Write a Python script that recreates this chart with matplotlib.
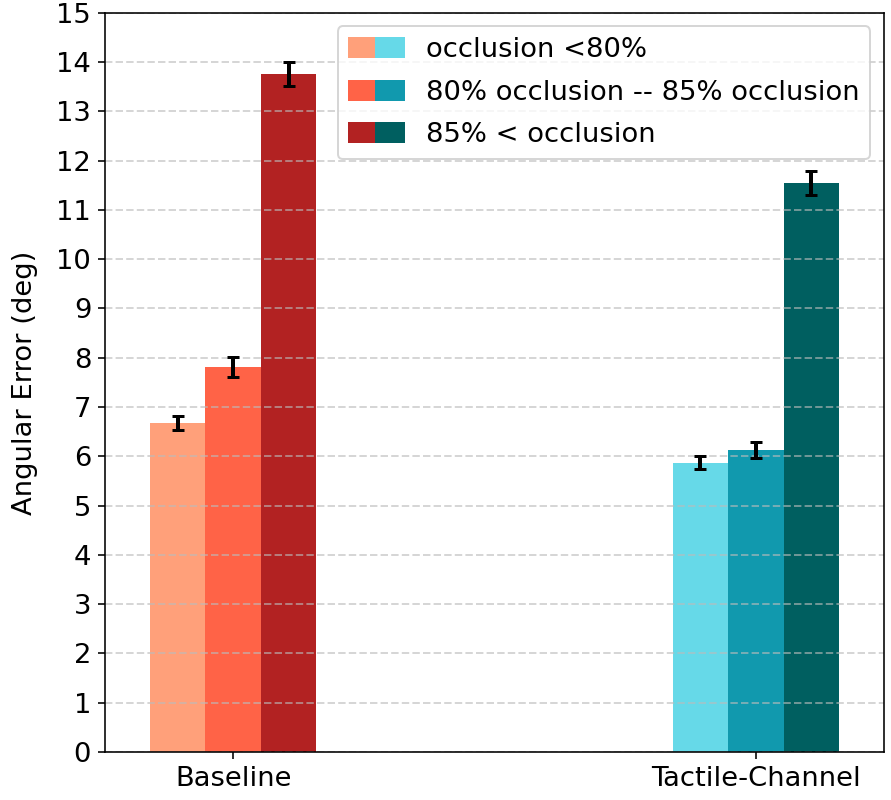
import numpy as np
import matplotlib.pyplot as plt
from matplotlib.patches import Rectangle
from matplotlib.legend_handler import HandlerTuple

# data
groups = ['Baseline', 'Tactile-Channel']
levels = ['occlusion <80%', '80% occlusion -- 85% occlusion', '85% < occlusion']
baseline_err = [6.68, 7.81, 13.76]
baseline_sd = [0.14, 0.20, 0.25]
tactile_err = [5.87, 6.13, 11.55]
tactile_sd = [0.13, 0.16, 0.24]

red_colors = ['#FFA07A', '#FF6347', '#B22222']
teal_colors = ['#66D9E8', '#1199AE', '#005F60']

plt.rcParams['font.size'] = 13.7
fig, ax = plt.subplots(figsize=(891 / 144, 800 / 144), dpi=144)
fig.subplots_adjust(left=0.118, right=0.992, bottom=0.06, top=0.984)

x = np.arange(len(groups))
width = 0.106
handles = []
for i in range(3):
    off = (i - 1) * width
    ax.bar(x[0] + off, baseline_err[i], width, color=red_colors[i], zorder=1)
    ax.bar(x[1] + off, tactile_err[i], width, color=teal_colors[i], zorder=1)
    ax.errorbar([x[0] + off, x[1] + off], [baseline_err[i], tactile_err[i]],
                yerr=[baseline_sd[i], tactile_sd[i]], fmt='none', ecolor='black',
                elinewidth=2, capsize=3, capthick=1.5, zorder=4)
    handles.append((Rectangle((0, 0), 1, 1, color=red_colors[i]),
                    Rectangle((0, 0), 1, 1, color=teal_colors[i])))

ax.set_xticks(x)
ax.set_xticklabels(groups)
ax.set_xlim(-0.245, 1.245)
ax.set_ylim(0, 15)
ax.set_yticks(range(0, 16))
ax.set_ylabel('Angular Error (deg)', labelpad=9)
ax.yaxis.grid(True, linestyle='--', color='#bbbbbb', alpha=0.6, linewidth=1, zorder=3)
ax.set_axisbelow(False)
for sp in ax.spines.values():
    sp.set_zorder(5)

ax.legend(handles, levels, loc='upper right', labelspacing=0.6,
          handler_map={tuple: HandlerTuple(ndivide=None, pad=0)})

plt.savefig('out.png', dpi=144)
